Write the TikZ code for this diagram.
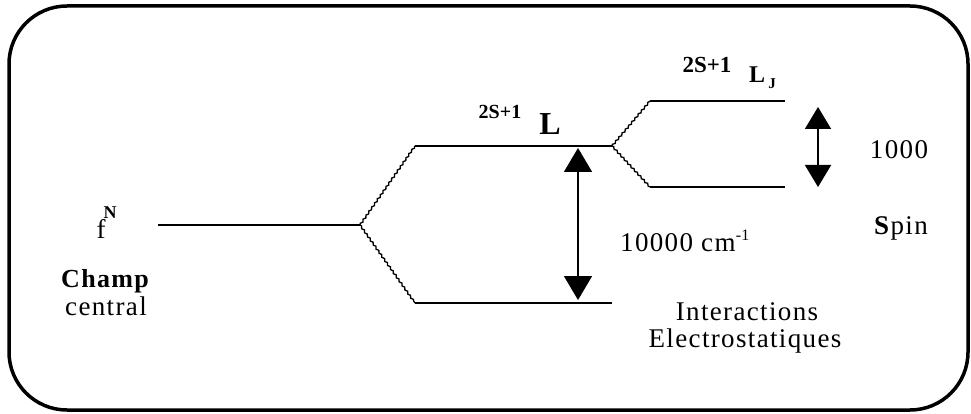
\documentclass[tikz,border=0pt]{standalone}
\usepackage{fontspec}
\setmainfont{Liberation Serif}
\newfontfamily\widefont[LetterSpace=5]{Liberation Serif}
\usetikzlibrary{arrows.meta,decorations.pathmorphing}
\begin{document}
\begin{tikzpicture}[x=1pt,y=-1pt,
  level/.style={line width=1.5pt},
  split/.style={line width=1.3pt, decorate,
    decoration={snake,amplitude=0.8pt,segment length=5pt}},
  gap/.style={line width=1.6pt,
    {Triangle[width=28pt,length=24pt]}-{Triangle[width=28pt,length=24pt]}},
  smallgap/.style={line width=1.6pt,
    {Triangle[width=26pt,length=22pt]}-{Triangle[width=26pt,length=22pt]}},
  txt/.style={inner sep=0pt, font=\widefont\fontsize{27}{29}\selectfont},
  sup/.style={inner sep=0pt, font=\fontsize{20}{22}\selectfont\bfseries},
]
\useasboundingbox (0,0) rectangle (971,414);
\draw[line width=3.5pt, rounded corners=58pt] (9,6) rectangle (968,410);

% level end points
\coordinate (f0) at (158,225);
\coordinate (f1) at (360,225);
\coordinate (Lu0) at (415,146);
\coordinate (Lu1) at (612,146);
\coordinate (Ld0) at (415,303);
\coordinate (Ld1) at (612,303);
\coordinate (Ju0) at (650,101);
\coordinate (Ju1) at (785,101);
\coordinate (Jd0) at (650,187);
\coordinate (Jd1) at (785,187);

\draw[level] (f0) -- (f1);
\draw[split] (f1) -- (Lu0);
\draw[split] (f1) -- (Ld0);
\draw[level] (Lu0) -- (Lu1);
\draw[level] (Ld0) -- (Ld1);
\draw[split] (Lu1) -- (Ju0);
\draw[split] (Lu1) -- (Jd0);
\draw[level] (Ju0) -- (Ju1);
\draw[level] (Jd0) -- (Jd1);

% gaps
\coordinate (a1t) at (578,148);
\coordinate (a1b) at (578,300);
\coordinate (a2t) at (818,107);
\coordinate (a2b) at (818,187);
\draw[gap] (a1t) -- (a1b);
\draw[smallgap] (a2t) -- (a2b);

% labels
\node[txt] (fN) at (101,229) {f};
\node[sup, font=\fontsize{18}{20}\selectfont\bfseries] (fNs) at (110,213) {N};
\node[txt, font=\widefont\fontsize{26}{28}\selectfont\bfseries] (champ) at (105,281) {Champ};
\node[txt] (central) at (106,306) {central};

\node[sup] (mL) at (500,112) {2S+1};
\node[txt, font=\fontsize{32}{34}\selectfont\bfseries] (L) at (550,124) {L};

\node[sup, font=\fontsize{23}{25}\selectfont\bfseries] (mLJ) at (707,65) {2S+1};
\node[txt, font=\fontsize{24}{26}\selectfont\bfseries] (LJ) at (757,75) {L};
\node[sup, font=\fontsize{15}{17}\selectfont\bfseries] (J) at (772,84) {J};

\node[txt, anchor=west] (big) at (620,243) {10000 cm};
\node[inner sep=0pt, font=\fontsize{16}{18}\selectfont, anchor=west] (bigu) at (big.east |- 0,235) {-1};

\node[txt, anchor=base] (inter) at (747,320) {Interactions};
\node[txt, anchor=base] (elec) at (745,347) {Electrostatiques};

\node[txt] (small) at (899,150) {1000};
\node[txt] (spin) at (901,228) {\textbf{S}pin};
\end{tikzpicture}
\end{document}
